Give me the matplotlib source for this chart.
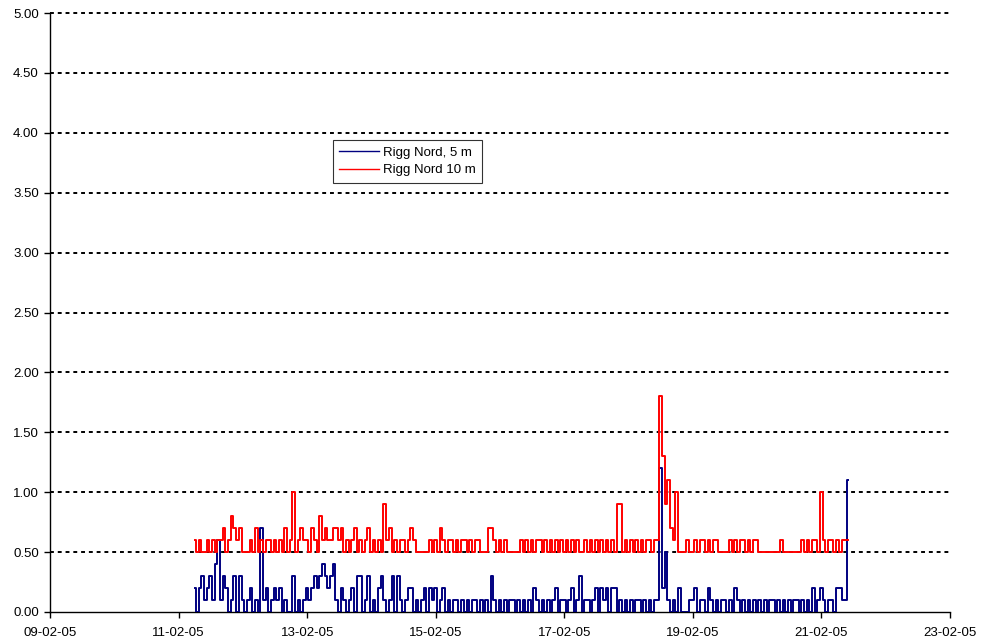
import numpy as np
import pandas as pd
import matplotlib
matplotlib.use("Agg")
import matplotlib.pyplot as plt
import matplotlib.dates as mdates

plt.rcParams['font.family'] = ['Liberation Sans', 'DejaVu Sans']

# hourly readings, starting 11-02-05 06:00 (values in tenths)
start = "2005-02-11 06:00"

nord_5m = (
    [2, 0, 2, 3, 1, 2, 3, 1, 4, 6, 1, 3, 2, 0, 1, 3, 0, 3]                            # 11-02
    + [1, 0, 1, 2, 0, 1, 0, 7, 1, 2, 0, 1, 2, 1, 2, 0, 1, 0, 0, 3, 0, 1, 0, 1]          # 12-02
    + [2, 1, 2, 3, 2, 3, 4, 3, 2, 3, 4, 1, 0, 2, 1, 0, 1, 2, 0, 3, 3, 0, 1, 3]          # 13-02
    + [0, 1, 0, 2, 3, 1, 0, 1, 3, 0, 3, 1, 0, 1, 2, 2, 0, 1, 0, 1, 2, 0, 2, 1]          # 14-02
    + [2, 0, 1, 2, 0, 1, 0, 1, 1, 0, 1, 0, 1, 0, 1, 1, 0, 1, 0, 1, 0, 3, 1, 0]          # 15-02
    + [1, 0, 1, 0, 1, 1, 0, 1, 0, 1, 0, 1, 0, 2, 1, 0, 1, 0, 1, 0, 1, 2, 0, 1]          # 16-02
    + [1, 0, 1, 2, 0, 1, 3, 0, 1, 1, 0, 1, 2, 0, 2, 1, 2, 0, 2, 2, 0, 1, 0, 1]          # 17-02
    + [0, 1, 0, 1, 1, 0, 1, 0, 1, 0, 1, 1, 12, 2, 5, 1, 0, 1, 0, 2, 0, 0, 0, 1]         # 18-02
    + [1, 2, 0, 1, 1, 0, 2, 1, 0, 1, 0, 1, 1, 0, 1, 0, 2, 1, 0, 1, 0, 1, 0, 1]          # 19-02
    + [0, 1, 0, 1, 0, 1, 1, 0, 1, 0, 1, 0, 1, 0, 1, 1, 0, 1, 0, 1, 0, 2, 0, 1]          # 20-02
    + [2, 1, 0, 1, 1, 0, 2, 2, 1, 1, 11]                                                # 21-02
)

nord_10m = (
    [6, 5, 6, 5, 5, 6, 5, 6, 5, 6, 6, 7, 5, 6, 8, 7, 6, 7]
    + [5, 5, 5, 6, 5, 7, 5, 6, 5, 6, 6, 5, 6, 5, 6, 5, 7, 5, 6, 10, 5, 6, 7, 6]
    + [6, 5, 7, 6, 5, 8, 6, 7, 6, 6, 7, 7, 6, 7, 5, 6, 5, 6, 7, 5, 6, 5, 6, 7]
    + [5, 6, 5, 6, 5, 9, 6, 7, 5, 6, 5, 6, 6, 5, 6, 7, 6, 5, 5, 5, 5, 5, 6, 5]
    + [6, 5, 7, 6, 5, 6, 6, 5, 6, 5, 6, 6, 5, 6, 5, 6, 6, 5, 5, 5, 7, 7, 6, 5]
    + [6, 5, 6, 5, 5, 5, 5, 5, 6, 5, 6, 5, 6, 5, 6, 6, 5, 6, 5, 6, 5, 6, 5, 6]
    + [5, 6, 5, 6, 5, 6, 5, 5, 6, 5, 6, 5, 6, 5, 6, 5, 6, 5, 6, 5, 9, 9, 5, 6]
    + [5, 6, 5, 6, 5, 6, 5, 6, 6, 5, 6, 6, 18, 13, 9, 11, 7, 6, 10, 5, 5, 5, 6, 5]
    + [5, 6, 5, 6, 6, 5, 6, 5, 6, 6, 5, 5, 5, 5, 6, 5, 6, 5, 6, 6, 5, 6, 5, 6]
    + [6, 5, 5, 5, 5, 5, 5, 5, 5, 6, 5, 5, 5, 5, 5, 5, 5, 6, 5, 6, 5, 6, 6, 5]
    + [10, 6, 5, 6, 6, 5, 6, 5, 6, 6, 6]
)

labels = ["Rigg Nord, 5 m", "Rigg Nord 10 m"]

t = pd.date_range(start, periods=len(nord_5m), freq="h")
blue = np.array(nord_5m) / 10.0
red = np.array(nord_10m) / 10.0

fig = plt.figure(figsize=(9.81, 6.44), dpi=100)
ax = fig.add_axes([50 / 981, 32 / 644, 900 / 981, 599 / 644])

# readings are logged values, draw them as steps like the logger chart
ax.plot(t, blue, color="#000080", lw=1.4, drawstyle="steps-mid", label=labels[0], zorder=3)
ax.plot(t, red, color="#FF0000", lw=1.4, drawstyle="steps-mid", label=labels[1], zorder=4)

ax.set_ylim(0, 5)
ax.set_yticks(np.arange(0, 5.01, 0.5))
ax.yaxis.set_major_formatter(plt.FormatStrFormatter("%.2f"))
ax.set_xlim(pd.Timestamp("2005-02-09"), pd.Timestamp("2005-02-23"))
ax.set_xticks(pd.date_range("2005-02-09", "2005-02-23", freq="2D"))
ax.xaxis.set_major_formatter(mdates.DateFormatter("%d-%m-%y"))

for y in np.arange(0.5, 5.01, 0.5):
    ax.axhline(y, color="black", lw=1.4, ls=(0, (2, 2)), zorder=1, clip_on=False)

ax.spines["top"].set_visible(False)
ax.spines["right"].set_visible(False)
ax.spines["left"].set_linewidth(1.0)
ax.spines["bottom"].set_linewidth(1.0)
ax.tick_params(direction="out", length=4, width=1, labelsize=9.5, colors="black")
ax.tick_params(axis="x", pad=7)
ax.tick_params(axis="y", pad=4)

leg = ax.legend(loc="upper left", bbox_to_anchor=(0.314, 0.788), borderaxespad=0,
                fancybox=False, frameon=True, edgecolor="black", fontsize=9.5,
                handlelength=3.0, handletextpad=0.3, borderpad=0.5, labelspacing=0.4)
leg.get_frame().set_linewidth(0.8)
for line in leg.get_lines():
    line.set_linewidth(1.0)

fig.savefig("out.png", dpi=100)
